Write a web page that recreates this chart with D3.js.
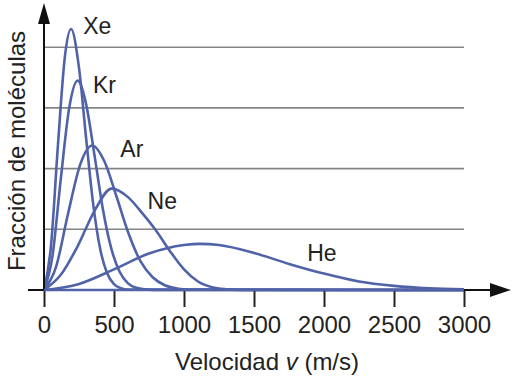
<!DOCTYPE html>
<html><head><meta charset="utf-8">
<script src="https://cdn.jsdelivr.net/npm/d3@7"></script>
<style>body{margin:0;background:#fff;} svg{display:block;font-family:"Liberation Sans",Arial,sans-serif;}</style>
</head><body>
<svg id="c" width="513" height="381"></svg>
<script>
// Tick labels on the speed axis (m/s)
const xTicks = [0, 500, 1000, 1500, 2000, 2500, 3000];
// Horizontal reference lines (arbitrary fraction units)
const gridLevels = [1, 2, 3, 4];
// Gas names
const gases = ["Xe", "Kr", "Ar", "Ne", "He"];
// Speeds (m/s) and fractions, one array per gas
const xeV = [0, 50, 100, 150, 193, 250, 300, 350, 400, 450, 500, 550, 600, 3000];
const xeF = [0, 0.73, 2.40, 3.86, 4.30, 3.66, 2.52, 1.44, 0.69, 0.28, 0.095, 0.028, 0.007, 0];
const krV = [0, 60, 120, 180, 240, 300, 360, 420, 480, 540, 600, 660, 720, 780, 3000];
const krF = [0, 0.55, 1.83, 3.0, 3.45, 3.07, 2.23, 1.34, 0.69, 0.30, 0.11, 0.037, 0.010, 0.002, 0];
const arV = [0, 86, 172, 259, 345, 431, 518, 604, 690, 776, 863, 949, 1035, 3000];
const arF = [0, 0.38, 1.26, 2.07, 2.38, 2.12, 1.54, 0.93, 0.47, 0.21, 0.078, 0.025, 0.007, 0];
const neV = [0, 120, 240, 360, 483, 600, 700, 800, 900, 1000, 1100, 1200, 1300, 1400, 3000];
const neF = [0, 0.25, 0.72, 1.30, 1.67, 1.53, 1.27, 0.98, 0.64, 0.34, 0.14, 0.045, 0.012, 0.002, 0];
const heV = [0, 250, 500, 750, 1000, 1114, 1250, 1500, 1750, 2000, 2250, 2500, 2750, 3000];
const heF = [0, 0.10, 0.34, 0.60, 0.74, 0.76, 0.74, 0.61, 0.43, 0.27, 0.14, 0.068, 0.028, 0.011];
// Where each gas name is printed (speed, fraction)
const labelV = [280, 350, 545, 740, 1880];
const labelF = [4.22, 3.25, 2.19, 1.34, 0.48];

const seriesV = [xeV, krV, arV, neV, heV];
const seriesF = [xeF, krF, arF, neF, heF];

const svg = d3.select("#c");
const x = d3.scaleLinear().domain([0, 3000]).range([44, 464]);
const y = d3.scaleLinear().domain([0, 4.695]).range([290, 5]);
const blue = "#5062a8";
const ink = "#222";

// grid lines
svg.append("g").selectAll("line").data(gridLevels).join("line")
  .attr("x1", x(0)).attr("x2", x(3000))
  .attr("y1", d => y(d)).attr("y2", d => y(d))
  .attr("stroke", "#858585").attr("stroke-width", 1.6);

// curves
const line = d3.line().x(d => x(d[0])).y(d => y(d[1])).curve(d3.curveMonotoneX);
seriesV.forEach((vs, i) => {
  const pts = vs.map((v, j) => [v, seriesF[i][j]]);
  svg.append("path").attr("d", line(pts)).attr("fill", "none")
    .attr("stroke", blue).attr("stroke-width", 2.6).attr("stroke-linejoin", "round");
});

// x axis ticks and labels
const ax = svg.append("g").attr("transform", `translate(0,${y(0)})`)
  .call(d3.axisBottom(x).tickValues(xTicks).tickSize(17).tickPadding(9).tickFormat(d3.format("d")));
ax.select(".domain").remove();
ax.selectAll(".tick line").attr("stroke", ink).attr("stroke-width", 2);
ax.selectAll(".tick text").attr("font-size", 24).attr("fill", ink)
  .attr("font-family", "Liberation Sans, Arial, sans-serif");

// axis lines with arrows
svg.append("line").attr("x1", 28).attr("x2", 492).attr("y1", y(0)).attr("y2", y(0))
  .attr("stroke", "#111").attr("stroke-width", 2);
svg.append("path").attr("d", `M490,${y(0)-7}L511,${y(0)}L490,${y(0)+7}Z`).attr("fill", "#111");
svg.append("line").attr("x1", x(0)).attr("x2", x(0)).attr("y1", y(0)).attr("y2", 22)
  .attr("stroke", "#111").attr("stroke-width", 2);
svg.append("path").attr("d", `M${x(0)-6},24L${x(0)},3L${x(0)+6},24Z`).attr("fill", "#111");

// curves' tails lying on the axis
svg.append("line").attr("x1", x(0)).attr("x2", x(3000)).attr("y1", y(0)).attr("y2", y(0))
  .attr("stroke", blue).attr("stroke-width", 2.6);

// gas labels
svg.append("g").selectAll("text").data(gases).join("text")
  .attr("x", (d, i) => x(labelV[i])).attr("y", (d, i) => y(labelF[i]))
  .attr("font-size", 23).attr("fill", ink).text(d => d);

// axis titles
const xt = svg.append("text").attr("x", 267).attr("y", 370).attr("text-anchor", "middle")
  .attr("font-size", 24).attr("fill", ink);
xt.append("tspan").text("Velocidad ");
xt.append("tspan").attr("font-style", "italic").text("v");
xt.append("tspan").text(" (m/s)");

svg.append("text").attr("transform", "translate(25,151) rotate(-90)")
  .attr("text-anchor", "middle").attr("font-size", 24).attr("fill", ink)
  .text("Fracción de moléculas");
</script>
</body></html>
